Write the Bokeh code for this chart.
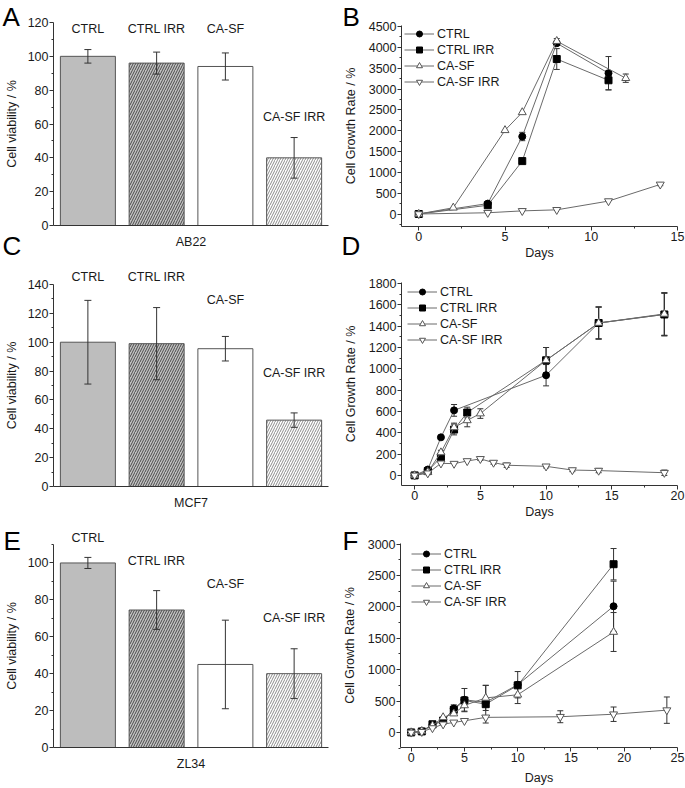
from bokeh.plotting import figure
from bokeh.models import Range1d, FixedTicker, ColumnDataSource, Whisker, TeeHead, Label
from bokeh.layouts import column, row
from bokeh.embed import file_html
from bokeh.resources import INLINE
from bokeh.core.properties import field

# ---------------- data ----------------
groups = ["CTRL", "CTRL IRR", "CA-SF", "CA-SF IRR"]

# Panel A (AB22)
a_vals = [100, 96, 94, 40]
a_err = [4, 6.5, 8, 12]
a_label_y = [116, 116, 116, 64]
# Panel C (MCF7)
c_vals = [100, 99, 95.5, 46]
c_err = [29, 25, 8.5, 5]
c_label_y = [145, 145, 129, 79]
# Panel E (ZL34)
e_vals = [100, 74.5, 45, 40]
e_err = [3, 10.5, 24, 13.5]
e_label_y = [113.5, 101, 88.5, 70]

# Panel B
b_ctrl_x = [0, 4, 6, 8, 11]
b_ctrl_y = [0, 250, 1860, 4100, 3380]
b_ctrl_e = [0, 0, 100, 0, 400]
b_irr_x = [0, 4, 6, 8, 11]
b_irr_y = [0, 210, 1270, 3720, 3210]
b_irr_e = [0, 0, 0, 250, 230]
b_sf_x = [0, 2, 5, 6, 8, 12]
b_sf_y = [0, 150, 2010, 2440, 4150, 3260]
b_sf_e = [0, 0, 0, 0, 60, 100]
b_sfirr_x = [0, 4, 6, 8, 11, 14]
b_sfirr_y = [0, 30, 75, 100, 310, 710]
b_sfirr_e = [0, 0, 0, 0, 0, 30]

# Panel D
d_ctrl_x = [0, 1, 2, 3, 10, 14, 19]
d_ctrl_y = [0, 55, 357, 610, 940, 1430, 1510]
d_ctrl_e = [0, 0, 0, 55, 100, 150, 200]
d_irr_x = [0, 1, 2, 3, 4, 10, 14, 19]
d_irr_y = [0, 40, 170, 430, 590, 1080, 1430, 1510]
d_irr_e = [0, 0, 0, 50, 50, 120, 150, 200]
d_sf_x = [0, 1, 2, 3, 4, 5, 10, 14, 19]
d_sf_y = [0, 30, 215, 450, 516, 580, 1080, 1430, 1515]
d_sf_e = [0, 0, 20, 40, 60, 45, 120, 150, 200]
d_sfirr_x = [0, 1, 2, 3, 4, 5, 6, 7, 10, 12, 14, 19]
d_sfirr_y = [0, 20, 113, 110, 135, 155, 120, 95, 85, 50, 45, 25]
d_sfirr_e = [0, 0, 0, 0, 0, 15, 15, 20, 15, 15, 20, 25]

# Panel F
f_ctrl_x = [0, 1, 2, 3, 4, 5, 7, 10, 19]
f_ctrl_y = [0, 20, 120, 180, 380, 520, 480, 760, 2010]
f_ctrl_e = [0, 0, 0, 0, 60, 180, 0, 210, 400]
f_irr_x = [0, 1, 2, 3, 4, 5, 7, 10, 19]
f_irr_y = [0, 16, 130, 190, 360, 510, 450, 750, 2680]
f_irr_e = [0, 0, 0, 0, 0, 0, 300, 0, 250]
f_sf_x = [0, 1, 2, 3, 4, 5, 7, 10, 19]
f_sf_y = [0, 20, 110, 240, 300, 430, 550, 600, 1600]
f_sf_e = [0, 0, 0, 0, 0, 100, 200, 140, 310]
f_sfirr_x = [0, 1, 2, 3, 4, 5, 7, 14, 19, 24]
f_sfirr_y = [0, 10, 70, 130, 160, 185, 240, 250, 290, 355]
f_sfirr_e = [0, 0, 0, 0, 0, 0, 0, 95, 115, 210]

# ---------------- style ----------------
FONT = "Liberation Sans"
FS = "12.5px"
LETTER_FONT = "Liberation Sans"
LETTER_FS = "26px"
AX = "#333333"
TXT = "#1a1a1a"

bar_fill = ["#bdbdbd", "#c2c2c2", "white", "white"]
bar_hatch = [" ", "/", " ", "/"]
bar_hatch_color = ["#bdbdbd", "#4a4a4a", "white", "#8c8c8c"]


class Panel:
    """A figure whose frame fills the canvas; axes are pinned at the data box."""

    def __init__(self, W, H, L, R, T, B, x0, x1, y0, y1):
        fw, fh = W - L - R, H - T - B
        self.sx = (x1 - x0) / fw
        self.sy = (y1 - y0) / fh
        self.xs = x0 - L * self.sx
        self.ye = y1 + T * self.sy
        self.H = H
        self.p = figure(width=W, height=H, min_border=0,
                        x_range=Range1d(self.xs, x1 + R * self.sx),
                        y_range=Range1d(y0 - B * self.sy, self.ye),
                        output_backend="svg", toolbar_location=None)
        p = self.p
        p.xaxis.fixed_location = y0
        p.xaxis.bounds = (x0, x1)
        p.yaxis.fixed_location = x0
        p.yaxis.bounds = (y0, y1)
        for ax in p.axis:
            ax.axis_line_color = AX
            ax.major_tick_line_color = AX
            ax.minor_tick_line_color = AX
            ax.major_tick_out = 4
            ax.major_tick_in = 0
            ax.minor_tick_out = 2
            ax.minor_tick_in = 0
            ax.major_label_text_font = FONT
            ax.major_label_text_font_size = FS
            ax.major_label_text_color = TXT
            ax.axis_label_text_font = FONT
            ax.axis_label_text_font_size = FS
            ax.axis_label_text_font_style = "normal"
            ax.axis_label_text_color = TXT
            ax.major_label_standoff = 1
        p.xgrid.grid_line_color = None
        p.ygrid.grid_line_color = None
        p.outline_line_color = None
        p.background_fill_color = "white"
        p.border_fill_color = "white"

    def letter(self, text, cx, cy):
        """Panel letter with its top-left at canvas pixel (cx, cy)."""
        self.p.add_layout(Label(x=self.xs + cx * self.sx, y=self.ye - cy * self.sy,
                                text=text, text_font=LETTER_FONT,
                                text_font_size=LETTER_FS, text_color="black",
                                text_baseline="top", text_align="left"))


def bar_panel(H, T, B, vals, errs, label_y, ymax, yticks, yminor, name):
    pn = Panel(340, H, 53, 12, T, B, -0.5, 3.5, 0, ymax)
    p = pn.p
    xs = list(range(len(groups)))
    src = ColumnDataSource(dict(
        x=xs, top=vals,
        lower=[v - e for v, e in zip(vals, errs)],
        upper=[v + e for v, e in zip(vals, errs)],
        fill=bar_fill, hatch=bar_hatch, hcol=bar_hatch_color))
    p.vbar(x="x", top="top", width=0.8, source=src, fill_color=field("fill"),
           line_color="#555555", line_width=1,
           hatch_pattern=field("hatch"), hatch_color=field("hcol"),
           hatch_scale=5, hatch_weight=1)
    p.add_layout(Whisker(source=src, base="x", lower="lower", upper="upper",
                         level="annotation", line_color="#333333", line_width=1,
                         upper_head=TeeHead(size=7, line_color="#333333"),
                         lower_head=TeeHead(size=7, line_color="#333333")))
    for gx, gname, gy in zip(xs, groups, label_y):
        p.add_layout(Label(x=gx, y=gy, text=gname, text_align="center",
                           text_baseline="middle", text_font=FONT,
                           text_font_size=FS, text_color=TXT))
    p.xaxis.ticker = FixedTicker(ticks=[])
    p.xaxis.major_tick_out = 0
    p.xaxis.minor_tick_out = 0
    p.xaxis.axis_label = name
    p.xaxis.axis_label_standoff = 9
    p.yaxis.ticker = FixedTicker(ticks=yticks, minor_ticks=yminor)
    p.yaxis.axis_label = "Cell viability / %"
    p.yaxis.axis_label_standoff = 6
    return pn


def line_panel(H, L, T, B, series, xr, yr, xticks, xminor, yticks, yminor,
               leg_x, leg_top, days_standoff):
    pn = Panel(345, H, L, 8, T, B, xr[0], xr[1], yr[0], yr[1])
    p = pn.p
    for label, xs, ys, es, marker, fill, lc, size in series:
        p.line(xs, ys, line_color="#6a6a6a", line_width=1, legend_label=label)
        bx = [x for x, e in zip(xs, es) if e > 0]
        lo = [y - e for y, e in zip(ys, es) if e > 0]
        hi = [y + e for y, e in zip(ys, es) if e > 0]
        if bx:
            wsrc = ColumnDataSource(dict(base=bx, lower=lo, upper=hi))
            p.add_layout(Whisker(source=wsrc, base="base", lower="lower", upper="upper",
                                 line_color="#333333", line_width=1,
                                 upper_head=TeeHead(size=6, line_color="#333333"),
                                 lower_head=TeeHead(size=6, line_color="#333333")))
        p.scatter(xs, ys, marker=marker, size=size, fill_color=fill, line_color=lc,
                  line_width=1, legend_label=label)
    p.xaxis.ticker = FixedTicker(ticks=xticks, minor_ticks=xminor)
    p.yaxis.ticker = FixedTicker(ticks=yticks, minor_ticks=yminor)
    p.xaxis.axis_label_standoff = days_standoff
    p.yaxis.axis_label_standoff = 8
    p.xaxis.axis_label = "Days"
    p.yaxis.axis_label = "Cell Growth Rate / %"
    lg = p.legend[0]
    n = len(series)
    lab_h, spacing, pad = 15, 1, 1
    leg_h = n * lab_h + (n - 1) * spacing + 2 * pad
    lg.location = (leg_x, H - leg_top - leg_h)
    lg.border_line_color = None
    lg.background_fill_alpha = 0
    lg.label_text_font = FONT
    lg.label_text_font_size = FS
    lg.label_text_color = TXT
    lg.glyph_width = 30
    lg.glyph_height = lab_h
    lg.label_height = lab_h
    lg.label_standoff = 3
    lg.spacing = spacing
    lg.padding = pad
    lg.margin = 0
    return pn


def series(cx, cy, ce, ix, iy, ie, sx, sy, se, rx, ry, re):
    return [
        ("CTRL", cx, cy, ce, "circle", "black", "black", 7),
        ("CTRL IRR", ix, iy, ie, "square", "black", "black", 7),
        ("CA-SF", sx, sy, se, "triangle", "white", "#555555", 8),
        ("CA-SF IRR", rx, ry, re, "inverted_triangle", "white", "#555555", 8),
    ]


# ---------------- figures ----------------
pa = bar_panel(262, 22, 37, a_vals, a_err, a_label_y, 120,
               list(range(0, 121, 20)), list(range(10, 120, 20)), "AB22")
pc = bar_panel(262, 22, 38, c_vals, c_err, c_label_y, 140,
               list(range(0, 141, 20)), list(range(10, 140, 20)), "MCF7")
pe = bar_panel(264, 20, 41, e_vals, e_err, e_label_y, 110,
               list(range(0, 101, 20)), list(range(10, 111, 20)), "ZL34")

pb = line_panel(262, 61, 25, 36,
                series(b_ctrl_x, b_ctrl_y, b_ctrl_e, b_irr_x, b_irr_y, b_irr_e,
                       b_sf_x, b_sf_y, b_sf_e, b_sfirr_x, b_sfirr_y, b_sfirr_e),
                (-1, 15), (-300, 4525), [0, 5, 10, 15], [2.5, 7.5, 12.5],
                list(range(0, 4501, 500)), list(range(-250, 4500, 500)), 64, 24, 2)
pd_ = line_panel(262, 61, 20, 39,
                 series(d_ctrl_x, d_ctrl_y, d_ctrl_e, d_irr_x, d_irr_y, d_irr_e,
                        d_sf_x, d_sf_y, d_sf_e, d_sfirr_x, d_sfirr_y, d_sfirr_e),
                 (-1, 20), (-95, 1810), [0, 5, 10, 15, 20], [2.5, 7.5, 12.5, 17.5],
                 list(range(0, 1801, 200)), list(range(100, 1800, 200)), 67, 20, 2)
pf = line_panel(264, 60, 19, 41,
                series(f_ctrl_x, f_ctrl_y, f_ctrl_e, f_irr_x, f_irr_y, f_irr_e,
                       f_sf_x, f_sf_y, f_sf_e, f_sfirr_x, f_sfirr_y, f_sfirr_e),
                (-1, 25), (-240, 3010), [0, 5, 10, 15, 20, 25], [2.5, 7.5, 12.5, 17.5, 22.5],
                list(range(0, 3001, 500)), list(range(-250, 3000, 500)), 71, 20, 6)

# panel letters (canvas pixel top-left positions)
pa.letter("A", 2, 1)
pa.letter("C", 2, 230)
pb.letter("B", 2, 1)
pb.letter("D", 1, 230)
pe.letter("E", 3, 1)
pf.letter("F", 2, 1)

layout = column(row(pa.p, pb.p), row(pc.p, pd_.p), row(pe.p, pf.p))

open("out.html", "w").write(file_html(layout, INLINE))
